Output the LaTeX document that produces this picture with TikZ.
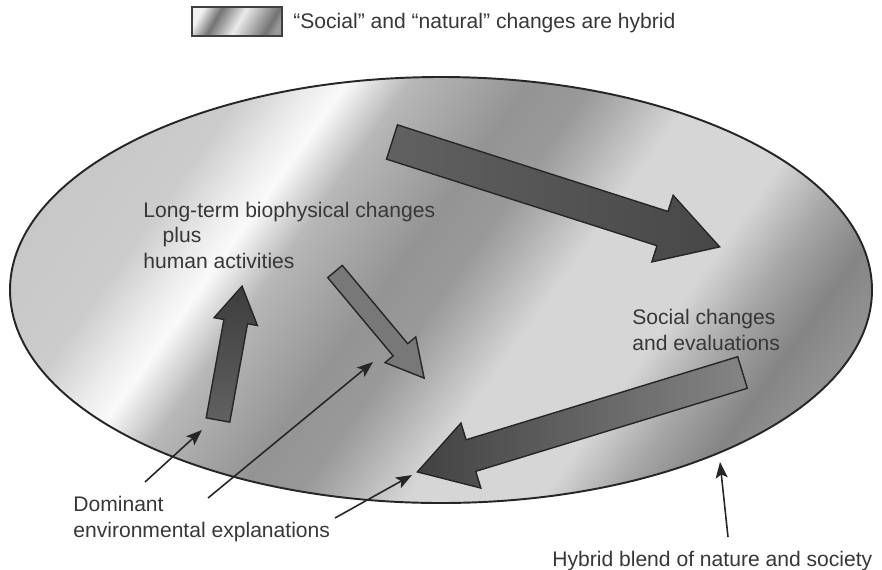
\documentclass[tikz,border=0pt]{standalone}
\usepackage{fontspec}
\setmainfont{Liberation Sans}
\usetikzlibrary{arrows.meta}

% grey streaks of the hybrid blend
\pgfdeclarehorizontalshading{hybrid}{100bp}{%
  color(0bp)=(black!22); color(28.6bp)=(black!22); color(34.3bp)=(black!20);
  color(37.1bp)=(black!8); color(38.8bp)=(black!2); color(41.7bp)=(black!28);
  color(47.3bp)=(black!42); color(50.2bp)=(black!40); color(52.4bp)=(black!30);
  color(55.3bp)=(black!16); color(61.5bp)=(black!16); color(64.9bp)=(black!35);
  color(68.1bp)=(black!48); color(71.1bp)=(black!42); color(100bp)=(black!42)}
\pgfdeclarehorizontalshading{streaks}{100bp}{%
  color(0bp)=(black!5); color(30bp)=(black!5); color(39bp)=(black!55);
  color(51bp)=(black!8); color(67bp)=(black!55); color(71bp)=(black!40);
  color(100bp)=(black!40)}

\tikzset{
  note/.style={inner sep=0pt, anchor=base west, align=left, text=black!78,
    font=\fontsize{12}{14.5}\selectfont},
  fatarrow/.style={draw=black!85, line width=0.8pt, line join=miter},
  pointer/.style={draw=black!85, line width=0.9pt,
    -{Stealth[length=3.2mm, width=2.4mm, inset=0.7mm]}}
}

% block arrow: tail, angle, length, half shaft, half head, head length
\newcommand\fatarrow[7][]{%
  \draw[fatarrow, #1, shift={(#2)}, rotate=#3]
    (0,#5) -- ({#4-#7},#5) -- ({#4-#7},#6) -- (#4,0)
    -- ({#4-#7},-#6) -- ({#4-#7},-#5) -- (0,-#5) -- cycle;}

\begin{document}
\begin{tikzpicture}[x=0.02cm, y=0.02cm]
  \useasboundingbox (0,0) rectangle (882,-569);
  \fill[white] (0,0) rectangle (882,-569);

  % legend box
  \begin{scope}
    \clip (192,-7) rectangle (282,-36);
    \shade[shading=streaks, shading angle=-30] (192,-66.5) rectangle (282,23.5);
  \end{scope}
  \draw[line width=1.2pt, draw=black!75] (192,-7) rectangle (282,-36);
  \node[note] (legend) at (293,-28) {“Social” and “natural” changes are hybrid};

  % the blend
  \begin{scope}
    \clip (441,-290) ellipse [x radius=431, y radius=213];
    \shade[shading=hybrid, shading angle=-35.5] (1,-730) rectangle (881,150);
  \end{scope}
  \draw[line width=1.1pt, draw=black!85] (441,-290) ellipse [x radius=431, y radius=213];

  % block arrows
  \fatarrow[left color=black!62, right color=black!72]{392,-142}{-17.75}{344}{18}{35}{60}
  \fatarrow[top color=black!76, bottom color=black!62]{218,-420}{79.8}{136}{12}{22}{36}
  \fatarrow[fill=black!53]{335,-271.5}{-50.1}{139}{9.5}{20}{37}
  \fatarrow[left color=black!74, right color=black!48]{742.5,-372.5}{197}{340}{16.5}{34}{56}

  % texts (base is the last line)
  \node[note] (longterm) at (143,-268)
    {Long-term biophysical changes\\\hspace*{11pt}plus\\human activities};
  \node[note] (social) at (632,-350) {Social changes\\and evaluations};
  \node[note] (dominant) at (73,-537) {Dominant\\environmental explanations};
  \node[note] (hybrid) at (552,-566) {Hybrid blend of nature and society};

  % pointers
  \coordinate (dom1) at (145,-482);
  \coordinate (dom2) at (208,-498);
  \coordinate (dom3) at (335,-518);
  \coordinate (hyb1) at (728,-537);
  \coordinate (upend) at (202,-430);
  \coordinate (smallhead) at (373,-362);
  \coordinate (lefthead) at (412,-475);
  \coordinate (rim) at (720,-462);
  \draw[pointer] (dom1) -- (upend);
  \draw[pointer] (dom2) -- (smallhead);
  \draw[pointer] (dom3) -- (lefthead);
  \draw[pointer] (hyb1) -- (rim);
\end{tikzpicture}
\end{document}
